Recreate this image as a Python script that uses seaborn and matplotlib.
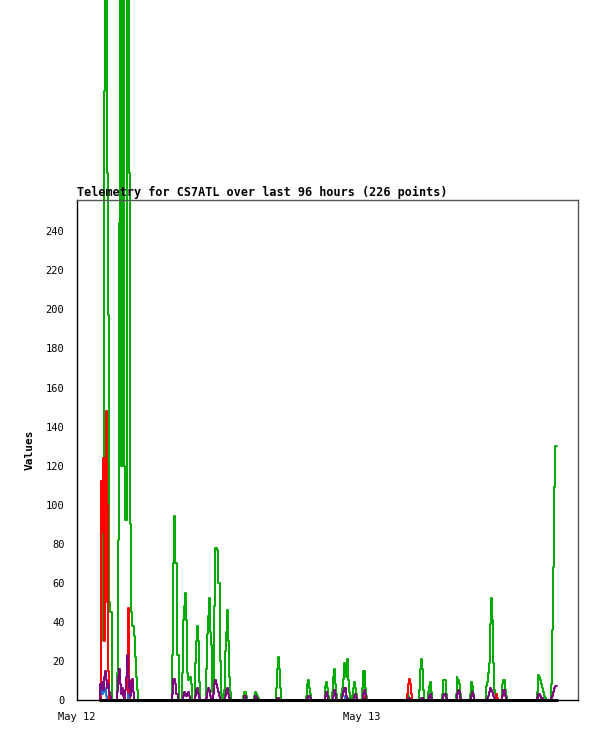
import numpy as np
import pandas as pd
import matplotlib
matplotlib.use("Agg")
import matplotlib.pyplot as plt
import matplotlib.dates as mdates
import seaborn as sns

# samples every 5 minutes, starting minute (after May 12 00:00) + values
start_day = "2024-05-12"
first_minute = 115
last_minute = 2425

green_starts = [120, 480, 535, 595, 650, 690, 745, 840, 895, 1005, 1155, 1250, 1290,
                1335, 1385, 1440, 1665, 1725, 1770, 1840, 1910, 1985, 2065, 2145, 2320, 2395]
green_vals = [
    [0, 30, 85, 124, 312, 400, 400, 270, 197, 50, 45, 45, 0, 0, 0, 0, 0, 14, 82, 244,
     400, 120, 120, 400, 120, 92, 92, 400, 400, 270, 90, 45, 38, 38, 33, 22, 12, 5, 0],
    [0, 23, 70, 94, 70, 70, 23, 23, 0],
    [14, 41, 48, 55, 41, 14, 10, 12, 12, 8, 0],
    [0, 19, 30, 38, 30, 9, 0],
    [0, 16, 34, 43, 52, 35, 28, 4],
    [10, 48, 78, 78, 77, 60, 60, 20, 3, 0],
    [5, 25, 35, 46, 30, 12, 4, 0],
    [2, 4, 4, 2, 0],
    [2, 4, 3, 2, 1, 0],
    [0, 6, 16, 22, 16, 6, 0],
    [0, 2, 8, 10, 6, 3, 0],
    [0, 7, 9, 6, 2, 0],
    [4, 12, 16, 8, 3, 0],
    [3, 6, 11, 19, 17, 12, 21, 10, 4, 0],
    [2, 0, 6, 9, 6, 3, 0],
    [0, 6, 15, 15, 6, 2, 0],
    [0, 3, 2, 0],
    [0, 5, 16, 21, 16, 5, 0],
    [0, 4, 7, 9, 4, 0],
    [0, 3, 10, 10, 10, 3, 0],
    [0, 3, 12, 11, 10, 8, 3, 0],
    [0, 3, 9, 7, 3, 0],
    [0, 7, 9, 14, 19, 39, 52, 41, 19, 5, 3, 1, 0],
    [0, 8, 10, 10, 5, 2, 0],
    [0, 4, 13, 12, 10, 8, 6, 4, 2, 1, 0],
    [0, 8, 36, 68, 109, 130, 130],
]

red_starts = [120, 255, 1455, 1665, 2115]
red_vals = [
    [0, 112, 86, 124, 30, 50, 148, 100, 15, 0],
    [0, 47, 10, 0],
    [0, 2, 0],
    [0, 3, 8, 11, 8, 3, 0],
    [0, 3, 1, 0],
]

blue_starts = [115, 255, 1350]
blue_vals = [
    [0, 5, 8, 3, 7, 4, 6, 2, 0],
    [0, 3, 0],
    [0, 2, 0],
]

purple_starts = [115, 200, 480, 535, 595, 650, 745, 840, 895, 1010, 1160, 1250, 1290,
                 1335, 1395, 1445, 1670, 1735, 1775, 1845, 1915, 1990, 2070, 2145, 2320, 2395]
purple_vals = [
    [0, 8, 6, 9, 5, 12, 15, 10, 6, 8, 4, 2, 0],
    [0, 4, 12, 16, 8, 3, 6, 2, 0, 5, 12, 23, 12, 6, 2, 9, 11, 4, 0],
    [0, 3, 11, 11, 8, 3, 3, 0],
    [0, 2, 4, 3, 2, 3, 4, 2, 0],
    [0, 2, 5, 6, 3, 1, 0],
    [0, 1, 4, 6, 5, 2, 0, 0, 3, 8, 10, 8, 6, 4, 2, 0],
    [0, 2, 5, 6, 3, 1, 0],
    [0, 2, 2, 0],
    [0, 2, 1, 0],
    [0, 1, 1, 0],
    [0, 1, 2, 2, 1, 0],
    [0, 2, 4, 2, 0],
    [0, 2, 5, 3, 0],
    [0, 2, 4, 6, 6, 2, 1, 0],
    [0, 2, 3, 1, 0],
    [0, 3, 5, 3, 0],
    [0, 1, 1, 0],
    [0, 1, 1, 0],
    [0, 2, 3, 1, 0],
    [0, 2, 3, 3, 1, 0],
    [0, 2, 3, 5, 4, 1, 0],
    [0, 2, 4, 2, 0],
    [0, 1, 2, 4, 6, 5, 4, 2, 1, 0],
    [0, 2, 5, 5, 2, 0],
    [0, 1, 3, 3, 2, 1, 1, 0],
    [0, 1, 2, 4, 6, 7, 7],
]

minutes = np.arange(first_minute, last_minute + 1, 5)


def build(starts, vals):
    s = pd.Series(0.0, index=minutes)
    for st, v in zip(starts, vals):
        idx = st + 5 * np.arange(len(v))
        s.loc[idx] = v
    return s.values


series = {
    "green": (build(green_starts, green_vals), "#00aa00", 1.4),
    "red": (build(red_starts, red_vals), "#ff0000", 1.4),
    "blue": (build(blue_starts, blue_vals), "#1f78d0", 1.4),
    "purple": (build(purple_starts, purple_vals), "#800080", 1.4),
    "black": (np.zeros(len(minutes)), "#000000", 2.2),
}

times = pd.Timestamp(start_day) + pd.to_timedelta(minutes, unit="min")

sns.set_style("white")
plt.rcParams["font.family"] = ["DejaVu Sans Mono"]
plt.rcParams["text.color"] = "black"
plt.rcParams["axes.labelcolor"] = "black"

fig = plt.figure(figsize=(5.97, 7.41), dpi=100)
ax = fig.add_axes([77 / 597, 41 / 741, 501 / 597, 500 / 741])

for name, (vals, col, lw) in series.items():
    df = pd.DataFrame({"time": times, "value": vals})
    sns.lineplot(data=df, x="time", y="value", color=col, linewidth=lw,
                 drawstyle="steps-mid", ax=ax, clip_on=False)

t0 = pd.Timestamp(start_day)
ax.set_xlim(t0, t0 + pd.Timedelta(hours=42.19))
ax.set_ylim(0, 256)
ax.set_yticks(np.arange(0, 241, 20))
ax.xaxis.set_major_locator(mdates.DayLocator())
ax.xaxis.set_major_formatter(mdates.DateFormatter("%b %d"))

ax.tick_params(axis="both", length=6, width=1, direction="out", labelsize=7.5,
               colors="black", pad=3)
for side in ["left", "bottom"]:
    ax.spines[side].set_color("black")
    ax.spines[side].set_linewidth(1)
for side in ["top", "right"]:
    ax.spines[side].set_color("#555555")
    ax.spines[side].set_linewidth(1)

ax.set_xlabel("")
ax.set_ylabel("Values", fontsize=8, fontweight="bold", labelpad=8, color="black")
ax.set_title("Telemetry for CS7ATL over last 96 hours (226 points)", loc="left",
             fontsize=8.5, fontweight="bold", pad=3, color="black")

fig.savefig("out.png", dpi=100, facecolor="white")
